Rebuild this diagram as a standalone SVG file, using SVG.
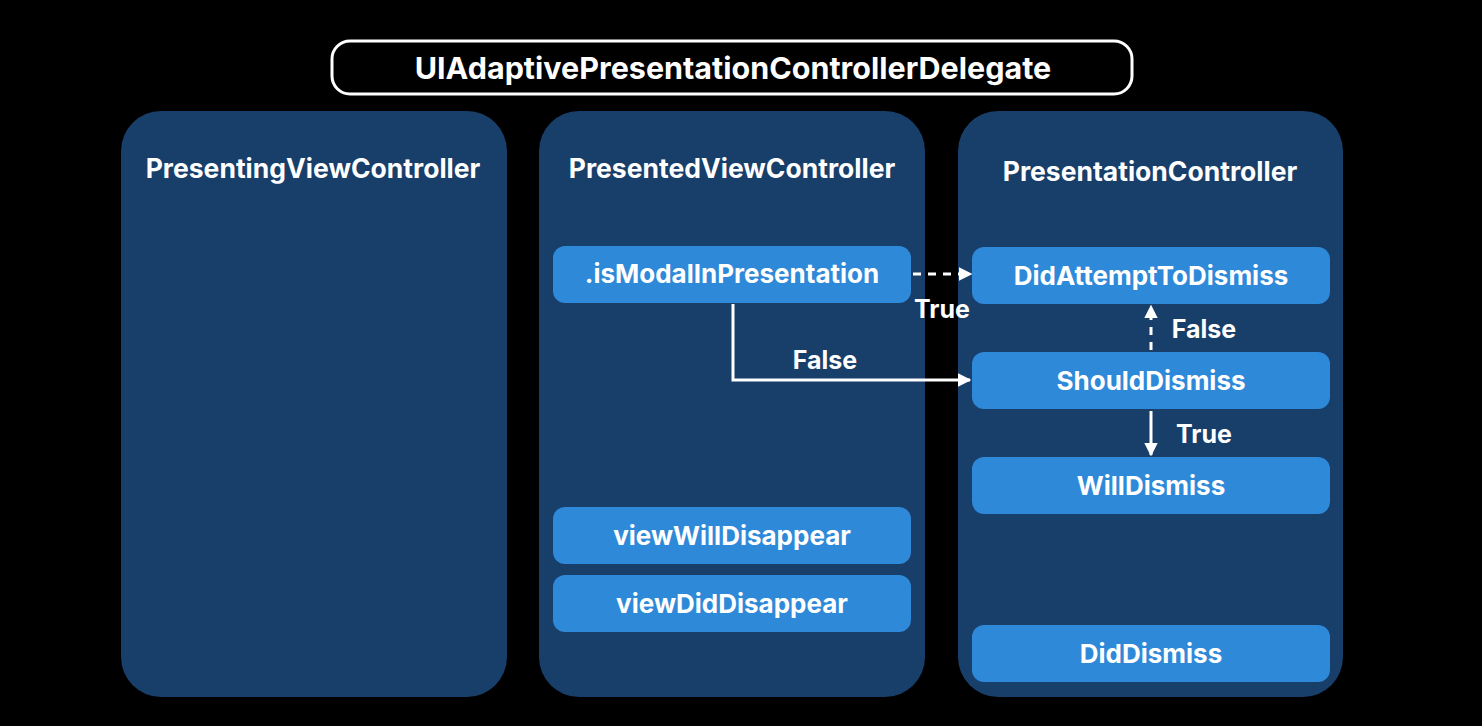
<svg xmlns="http://www.w3.org/2000/svg" width="1482" height="726" viewBox="0 0 1482 726">
<defs>
<marker id="ah" viewBox="0 0 10 10" refX="9" refY="5" markerWidth="4.5" markerHeight="4.5" orient="auto" markerUnits="strokeWidth">
<path d="M0,0 L10,5 L0,10 z" fill="#ffffff"/>
</marker>
<style>
.panel{fill:#183e6a}
.node{fill:#2f89d9}
.t{font-family:Inter,"Liberation Sans",sans-serif;font-weight:700;fill:#ffffff;text-anchor:middle;dominant-baseline:central}
.head{font-size:26.5px}
.big{font-size:26px}
.lbl{font-size:25px}
.edge{stroke:#ffffff;stroke-width:3;fill:none}
.dash{stroke-dasharray:8 7}
</style>
</defs>
<rect width="1482" height="726" fill="#000000"/>
<g id="title">
<rect x="332" y="41" width="800" height="53" rx="18" fill="#000000" stroke="#ffffff" stroke-width="3"/>
<text class="t" x="733" y="67" font-size="30.5">UIAdaptivePresentationControllerDelegate</text>
</g>
<g id="presenting">
<rect class="panel" x="121" y="111" width="386" height="586" rx="40"/>
<text class="t head" x="313" y="168">PresentingViewController</text>
</g>
<g id="presented">
<rect class="panel" x="539" y="111" width="386" height="586" rx="40"/>
<text class="t head" x="732" y="168">PresentedViewController</text>
</g>
<g id="presentation">
<rect class="panel" x="958" y="111" width="385" height="586" rx="40"/>
<text class="t head" x="1150" y="171">PresentationController</text>
</g>
<g id="isModal">
<rect class="node" x="553" y="246" width="358" height="57" rx="12"/>
<text class="t big" x="732" y="273">.isModalInPresentation</text>
</g>
<g id="viewWillDisappear">
<rect class="node" x="553" y="507" width="358" height="57" rx="12"/>
<text class="t big" x="732" y="535">viewWillDisappear</text>
</g>
<g id="viewDidDisappear">
<rect class="node" x="553" y="575" width="358" height="57" rx="12"/>
<text class="t big" x="732" y="603">viewDidDisappear</text>
</g>
<g id="didAttempt">
<rect class="node" x="972" y="247" width="358" height="57" rx="12"/>
<text class="t big" x="1151" y="275">DidAttemptToDismiss</text>
</g>
<g id="shouldDismiss">
<rect class="node" x="972" y="352" width="358" height="57" rx="12"/>
<text class="t big" x="1151" y="380">ShouldDismiss</text>
</g>
<g id="willDismiss">
<rect class="node" x="972" y="457" width="358" height="57" rx="12"/>
<text class="t big" x="1151" y="485">WillDismiss</text>
</g>
<g id="didDismiss">
<rect class="node" x="972" y="625" width="358" height="57" rx="12"/>
<text class="t big" x="1151" y="653">DidDismiss</text>
</g>
<g id="connectors">
<line class="edge dash" x1="913" y1="274" x2="971" y2="274" marker-end="url(#ah)"/>
<text class="t lbl" x="942" y="309">True</text>
<polyline class="edge" points="733,304 733,380 970,380" marker-end="url(#ah)"/>
<text class="t lbl" x="825" y="360">False</text>
<line class="edge dash" x1="1151" y1="350" x2="1151" y2="306" marker-end="url(#ah)"/>
<text class="t lbl" x="1204" y="329">False</text>
<line class="edge" x1="1151" y1="411" x2="1151" y2="455" marker-end="url(#ah)"/>
<text class="t lbl" x="1204" y="434">True</text>
</g>
</svg>
